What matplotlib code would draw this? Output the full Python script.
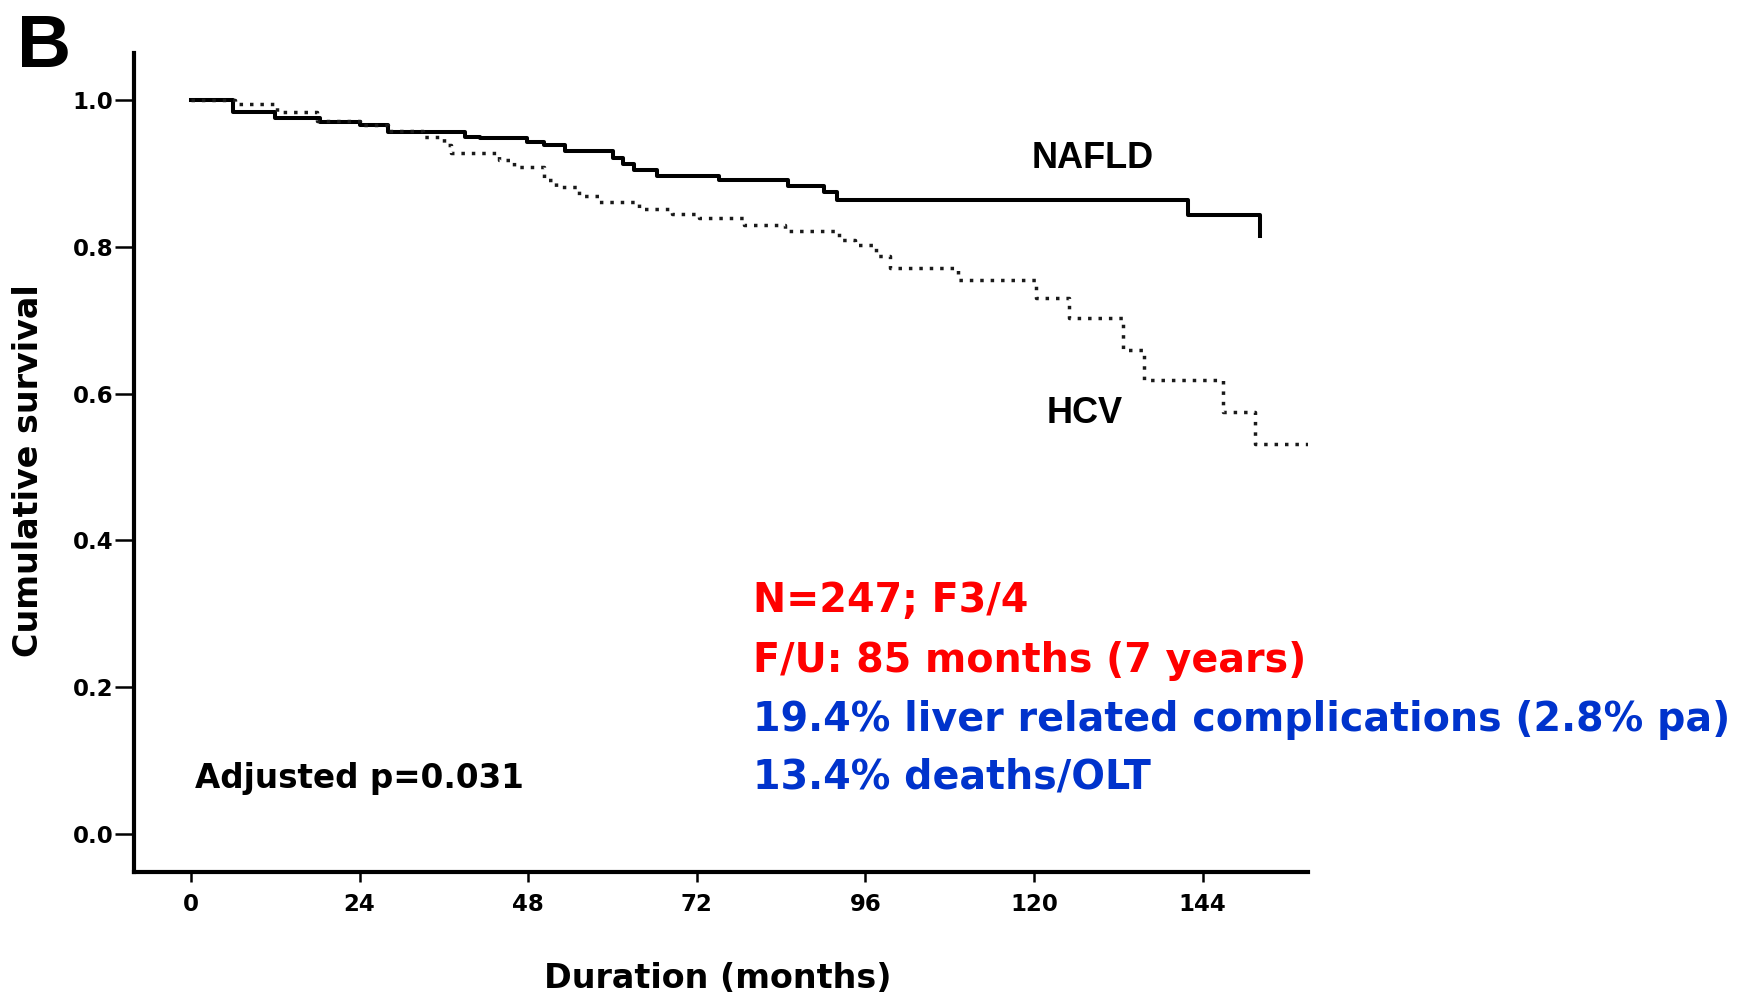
import matplotlib
matplotlib.use("Agg")
import matplotlib.pyplot as plt

# Kaplan-Meier curves
nafld_months = [0, 6, 12, 18.4, 24.1, 28.1, 39, 41.2, 47.8, 50.2, 53.3, 60.1, 61.5, 63,
                66.4, 75.1, 85, 90.1, 92, 141.9, 152.1]
nafld_surv = [1.0, 0.984, 0.976, 0.970, 0.966, 0.956, 0.950, 0.948, 0.943, 0.939, 0.930,
              0.921, 0.913, 0.904, 0.897, 0.891, 0.883, 0.875, 0.864, 0.843, 0.814]

hcv_months = [0, 6.3, 12.2, 18.0, 24.0, 28.0, 33.0, 36.0, 37.0, 43.8, 46.0, 50.2, 52.0,
              55.2, 58.1, 63.8, 68.5, 72.3, 78.7, 84.5, 92.2, 94.5, 97.5, 99.5, 109.2,
              120.3, 125.0, 132.6, 135.7, 146.9, 151.4, 159]
hcv_surv = [1.0, 0.995, 0.984, 0.972, 0.966, 0.958, 0.950, 0.939, 0.928, 0.918, 0.909,
            0.891, 0.881, 0.869, 0.861, 0.852, 0.845, 0.839, 0.830, 0.821, 0.809, 0.802,
            0.787, 0.771, 0.755, 0.730, 0.703, 0.659, 0.619, 0.575, 0.531, 0.531]

x_ticks = [0, 24, 48, 72, 96, 120, 144]
y_ticks = [0.0, 0.2, 0.4, 0.6, 0.8, 1.0]

notes_red = ["N=247; F3/4", "F/U: 85 months (7 years)"]
notes_blue = ["19.4% liver related complications (2.8% pa)", "13.4% deaths/OLT"]

W, H = 1750, 997


def px(x, y):
    # pixel position (from top-left) -> figure fraction
    return x / W, 1 - y / H


fig = plt.figure(figsize=(17.5, 9.97), dpi=100)
ax = fig.add_axes([134 / W, 125 / H, 1174 / W, 819 / H])

ax.step(nafld_months, nafld_surv, where="post", color="black", lw=2.9)
ax.step(hcv_months, hcv_surv, where="post", color="#1a1a1a", lw=2.5,
        linestyle=(0, (1, 2.0)))

ax.set_xlim(-8.1, 159)
ax.set_ylim(-0.052, 1.064)
for s in ["top", "right"]:
    ax.spines[s].set_visible(False)
for s in ["left", "bottom"]:
    ax.spines[s].set_linewidth(3)

ax.set_xticks(x_ticks)
ax.set_xticklabels([str(t) for t in x_ticks])
ax.set_yticks(y_ticks)
ax.set_yticklabels(["%.1f" % t for t in y_ticks])
ax.tick_params(axis="y", length=14, width=1.8, pad=1)
ax.tick_params(axis="x", length=7, width=1.8, pad=8)
for lab in ax.get_xticklabels() + ax.get_yticklabels():
    lab.set_fontweight("bold")
    lab.set_fontsize(16.5)

fig.text(*px(718, 988), "Duration (months)", fontsize=24, fontweight="bold",
         ha="center", va="baseline")
fig.text(*px(29, 471), "Cumulative survival", fontsize=24, fontweight="bold",
         rotation=90, ha="center", va="center")
fig.text(*px(195, 788), "Adjusted p=0.031", fontsize=23.5, fontweight="bold",
         ha="left", va="baseline")

fig.text(*px(1032, 168), "NAFLD", fontsize=26, fontweight="bold",
         family="Liberation Sans", ha="left", va="baseline")
fig.text(*px(1047, 423), "HCV", fontsize=26, fontweight="bold",
         family="Liberation Sans", ha="left", va="baseline")
fig.text(*px(17, 67), "B", fontsize=54, fontweight="bold",
         family="Liberation Sans", ha="left", va="baseline")

baselines = [612, 672, 731, 788]
for i, line in enumerate(notes_red + notes_blue):
    col = "#FF0000" if i < len(notes_red) else "#0033CC"
    fig.text(*px(753, baselines[i]), line, fontsize=28.5, fontweight="bold",
             color=col, ha="left", va="baseline")

fig.savefig("out.png", dpi=100, facecolor="white")
